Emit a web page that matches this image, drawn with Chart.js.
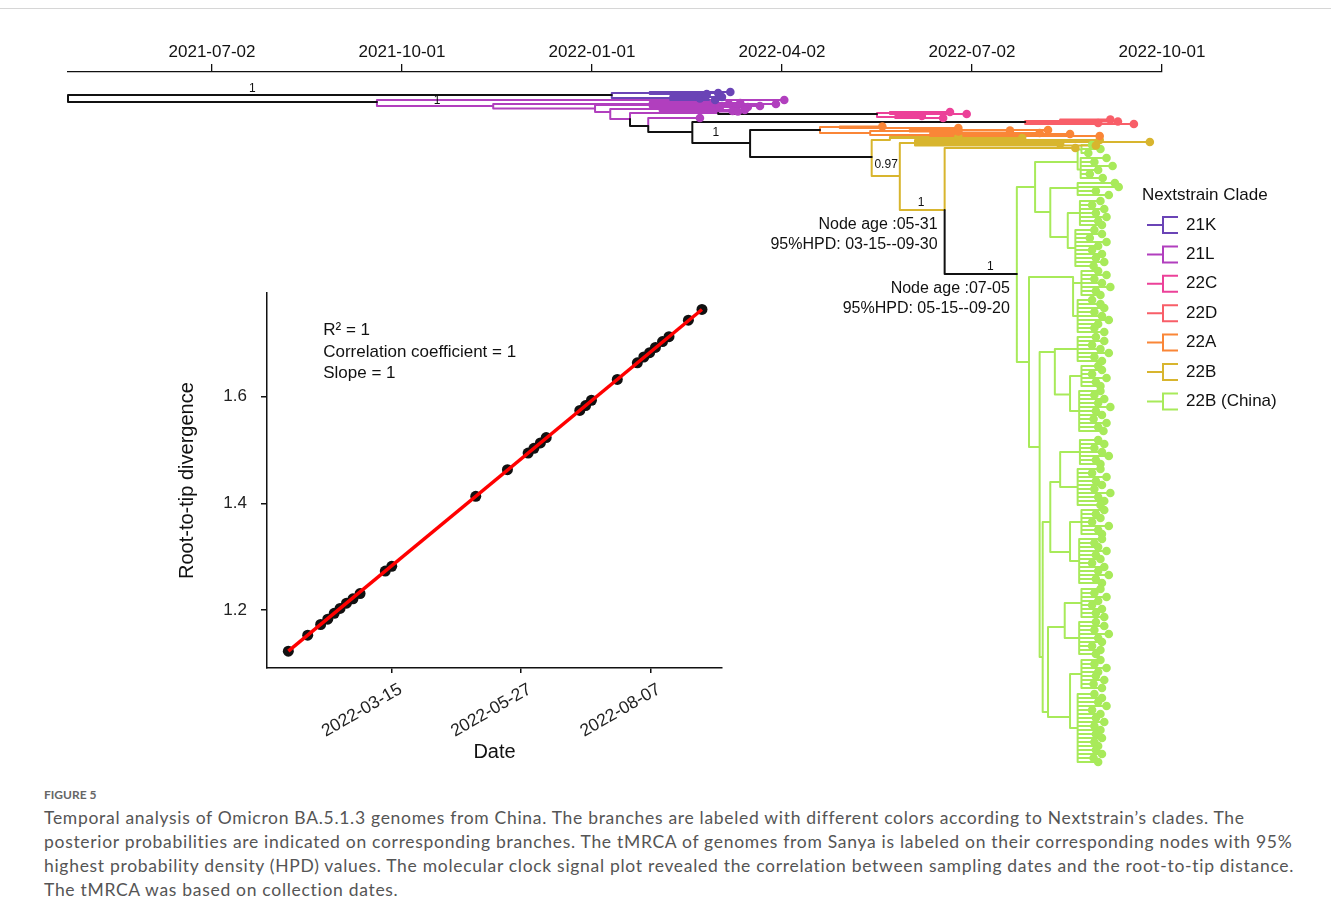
<!DOCTYPE html>
<html>
<head>
<meta charset="utf-8">
<script src="https://cdn.jsdelivr.net/npm/chart.js@4.4.1/dist/chart.umd.min.js"></script>
<style>
  html, body { margin: 0; padding: 0; background: #fff; }
  body { width: 1331px; height: 924px; position: relative; overflow: hidden; }
  #frame { position: absolute; left: 0; top: 8px; width: 1331px; height: 1px; background: #d6d6d6; }
  #tree-wrap { position: absolute; left: 0; top: 0; width: 1331px; height: 780px; }
  #clock-wrap { position: absolute; left: 160px; top: 269px; width: 580px; height: 511px; }
  #caption { position: absolute; left: 44px; top: 786px; width: 1285px; color: #555; font-family: 'Lato', 'Open Sans', sans-serif; }
  .fig-no { font-size: 12px; font-weight: 700; line-height: 18px; color: #666; }
  .fig-text { font-size: 17.5px; letter-spacing: 0.7px; line-height: 24px; margin-top: 2px; white-space: nowrap; }
</style>
</head>
<body>
<div id="frame"></div>
<div id="tree-wrap"><canvas id="chart-tree" width="1331" height="780"></canvas></div>
<div id="clock-wrap"><canvas id="chart-clock" width="580" height="511"></canvas></div>
<div id="caption">
  <div class="fig-no">FIGURE 5</div>
  <div class="fig-text">Temporal analysis of Omicron BA.5.1.3 genomes from China. The branches are labeled with different colors according to Nextstrain’s clades. The<br>posterior probabilities are indicated on corresponding branches. The tMRCA of genomes from Sanya is labeled on their corresponding nodes with 95%<br>highest probability density (HPD) values. The molecular clock signal plot revealed the correlation between sampling dates and the root-to-tip distance.<br>The tMRCA was based on collection dates.</div>
</div>
<script>
const FONT = "'Liberation Sans', Arial, sans-serif";
Chart.defaults.font.family = FONT;

// ── tree: time axis (decimal years) ──
const treeTickYears = [2021.5, 2021.75, 2022.0, 2022.25, 2022.5, 2022.75];
const treeTickLabels = ['2021-07-02', '2021-10-01', '2022-01-01', '2022-04-02', '2022-07-02', '2022-10-01'];

const cladeNames = ['21K', '21L', '22C', '22D', '22A', '22B', '22B (China)'];
const cladeColors = ['#6a44b6', '#b13fbe', '#ec4199', '#f85e68', '#fa8637', '#d8b52e', '#a8ea5a'];

// node rows: [id, parent, year, tip row]; id null = sampled tip
const backboneNodes = [
  ['R', null, 2021.3105, 5.2],
  ['K0', 'R', 2022.026, 4.6],
  ['L0', 'R', 2021.717, 6.0],
  ['P0', 'S22C', 2022.375, 8.4],
  ['B3', 'B1', 2022.074, 10.8],
  ['B4', 'B3', 2022.132, 12.0],
  ['D0', 'B4', 2022.570, 10.0],
  ['B5', 'B4', 2022.208, 14.2],
  ['A0', 'B5', 2022.300, 11.6],
  ['Y1', 'B5', 2022.368, 17.0],
  ['C0', 'Y3', 2022.559, 40.4],
];
const nodes21K = [
  ['k1', 'K0', 2022.076, 4.2],
  ['k2', 'K0', 2022.103, 5.2],
  [null, 'k1', 2022.151, 4.4],
  [null, 'k1', 2022.182, 4.0],
  [null, 'k1', 2022.166, 4.2],
  [null, 'k2', 2022.171, 5.0],
  [null, 'k2', 2022.162, 5.6],
  [null, 'k2', 2022.142, 5.3],
  [null, 'k2', 2022.150, 4.8],
];
const nodes21L = [
  [null, 'L0', 2022.253, 5.6],
  ['l2', 'L0', 2021.870, 6.8],
  [null, 'l2', 2022.242, 6.4],
  ['l3', 'l2', 2022.004, 7.3],
  ['l3a', 'l3', 2022.076, 6.6],
  [null, 'l3a', 2022.195, 6.2],
  [null, 'l3a', 2022.221, 6.8],
  [null, 'l3a', 2022.180, 6.4],
  [null, 'l3a', 2022.160, 6.0],
  [null, 'l3a', 2022.205, 7.0],
  ['l4', 'l3', 2022.024, 8.0],
  ['l4a', 'l4', 2022.089, 7.4],
  [null, 'l4a', 2022.201, 7.6],
  [null, 'l4a', 2022.168, 7.2],
  [null, 'l4a', 2022.185, 7.8],
  ['B1', 'l4', 2022.050, 9.4],
  ['S22C', 'B1', 2022.166, 8.2],
  [null, 'S22C', 2022.192, 7.9],
  [null, 'B3', 2022.142, 9.2],
];
const nodes22C = [
  ['p1', 'P0', 2022.392, 8.2],
  ['p2', 'P0', 2022.399, 9.0],
  [null, 'p1', 2022.471, 8.0],
  [null, 'p1', 2022.493, 8.4],
  [null, 'p2', 2022.434, 8.8],
  [null, 'p2', 2022.462, 9.2],
];
const nodes22D = [
  ['d1', 'D0', 2022.616, 9.8],
  [null, 'd1', 2022.682, 9.5],
  [null, 'd1', 2022.692, 9.9],
  [null, 'D0', 2022.713, 10.4],
  [null, 'D0', 2022.666, 10.2],
];
const nodes22A = [
  ['a1', 'A0', 2022.326, 11.0],
  ['a2', 'A0', 2022.366, 12.2],
  ['a3', 'a2', 2022.418, 11.8],
  ['a4', 'a2', 2022.445, 12.6],
  [null, 'a1', 2022.382, 10.9],
  [null, 'a1', 2022.482, 11.2],
  [null, 'a3', 2022.482, 11.9],
  [null, 'a3', 2022.550, 11.7],
  [null, 'a3', 2022.600, 11.6],
  [null, 'a4', 2022.589, 12.2],
  [null, 'a4', 2022.668, 12.8],
  [null, 'a4', 2022.629, 12.4],
];
const nodes22B = [
  ['y1a', 'Y1', 2022.392, 13.6],
  ['Y2', 'Y1', 2022.405, 20.8],
  ['y2a', 'Y2', 2022.425, 14.2],
  ['Y3', 'Y2', 2022.464, 27.6],
  [null, 'y1a', 2022.482, 13.0],
  [null, 'y1a', 2022.566, 13.2],
  [null, 'y2a', 2022.668, 13.6],
  [null, 'y2a', 2022.734, 14.0],
  [null, 'y2a', 2022.616, 14.4],
  [null, 'y2a', 2022.663, 14.7],
  [null, 'Y3', 2022.636, 15.2],
];
const chinaNodes = [
  ['GA', 'C0', 2022.583, 23.0],
  ['GA1', 'GA', 2022.639, 18.0],
  ['GA1a', 'GA1', 2022.644, 15.5],
  ['GA1b', 'GA1', 2022.643, 19.5],
  ['GA2', 'GA', 2022.603, 28.0],
  ['GA2a', 'GA2', 2022.639, 23.2],
  ['GA2b', 'GA2', 2022.626, 33.0],
  ['GA2b1', 'GA2b', 2022.642, 28.2],
  ['GA2b2', 'GA2b', 2022.636, 35.2],
  ['GB', 'C0', 2022.575, 58.0],
  ['GB1', 'GB', 2022.633, 41.0],
  ['GB1a', 'GB1', 2022.644, 42.2],
  ['GB1b', 'GB1', 2022.639, 48.8],
  ['GB2', 'GB', 2022.589, 75.0],
  ['GB2a', 'GB2', 2022.609, 56.0],
  ['GB2a1', 'GB2a', 2022.639, 55.4],
  ['GB2a2', 'GB2a', 2022.629, 64.5],
  ['GB2a2a', 'GB2a2', 2022.644, 60.8],
  ['GB2a2b', 'GB2a2', 2022.641, 67.8],
  ['GB3', 'GB2', 2022.593, 117.0],
  ['GB3a', 'GB3', 2022.603, 90.0],
  ['GB3a1', 'GB3a', 2022.616, 82.0],
  ['GB3a1a', 'GB3a1', 2022.642, 76.0],
  ['GB3a1b', 'GB3a1', 2022.639, 83.0],
  ['GB3a2', 'GB3a', 2022.629, 96.0],
  ['GB3a2a', 'GB3a2', 2022.644, 90.0],
  ['GB3a2b', 'GB3a2', 2022.641, 97.8],
  ['GB4', 'GB3', 2022.600, 128.0],
  ['GB4a', 'GB4', 2022.622, 111.0],
  ['GB4a1', 'GB4a', 2022.644, 106.2],
  ['GB4a2', 'GB4a', 2022.641, 113.2],
  ['GB4b', 'GB4', 2022.629, 129.0],
  ['GB4b1', 'GB4b', 2022.644, 120.4],
  ['GB4b2', 'GB4b', 2022.639, 131.2],
];
// China tips: [parent, year, row]
const chinaTips = [
  ['GA1a', 2022.658, 14.6], ['GA1a', 2022.669, 15.4], ['GA1a', 2022.653, 16.2],
  ['GA1b', 2022.677, 17.2], ['GA1b', 2022.661, 18.0], ['GA1b', 2022.685, 18.8], ['GA1b', 2022.666, 19.6], ['GA1b', 2022.655, 20.4], ['GA1b', 2022.672, 21.2],
  ['GA2a', 2022.688, 22.2], ['GA2a', 2022.693, 23.0], ['GA2a', 2022.663, 23.8], ['GA2a', 2022.680, 24.6],
  ['GA2b1', 2022.669, 25.8], ['GA2b1', 2022.658, 26.6], ['GA2b1', 2022.674, 27.4], ['GA2b1', 2022.663, 28.2], ['GA2b1', 2022.677, 29.0], ['GA2b1', 2022.666, 29.8], ['GA2b1', 2022.671, 30.6],
  ['GA2b2', 2022.661, 31.6], ['GA2b2', 2022.671, 32.4], ['GA2b2', 2022.655, 33.2], ['GA2b2', 2022.677, 34.0], ['GA2b2', 2022.666, 34.8], ['GA2b2', 2022.658, 35.6], ['GA2b2', 2022.671, 36.4], ['GA2b2', 2022.663, 37.2], ['GA2b2', 2022.674, 38.0], ['GA2b2', 2022.660, 38.8],
  ['GB1a', 2022.666, 39.8], ['GB1a', 2022.677, 40.6], ['GB1a', 2022.661, 41.4], ['GB1a', 2022.671, 42.2], ['GB1a', 2022.682, 43.0], ['GB1a', 2022.663, 43.8], ['GB1a', 2022.669, 44.6],
  ['GB1b', 2022.658, 45.6], ['GB1b', 2022.669, 46.4], ['GB1b', 2022.674, 47.2], ['GB1b', 2022.661, 48.0], ['GB1b', 2022.671, 48.8], ['GB1b', 2022.680, 49.6], ['GB1b', 2022.666, 50.4], ['GB1b', 2022.661, 51.2], ['GB1b', 2022.674, 52.0],
  ['GB2a1', 2022.663, 53.0], ['GB2a1', 2022.674, 53.8], ['GB2a1', 2022.658, 54.6], ['GB2a1', 2022.669, 55.4], ['GB2a1', 2022.680, 56.2], ['GB2a1', 2022.661, 57.0], ['GB2a1', 2022.671, 57.8],
  ['GB2a2a', 2022.666, 58.8], ['GB2a2a', 2022.671, 59.6], ['GB2a2a', 2022.658, 60.4], ['GB2a2a', 2022.677, 61.2], ['GB2a2a', 2022.663, 62.0], ['GB2a2a', 2022.669, 62.8],
  ['GB2a2b', 2022.669, 63.8], ['GB2a2b', 2022.661, 64.6], ['GB2a2b', 2022.674, 65.4], ['GB2a2b', 2022.666, 66.2], ['GB2a2b', 2022.682, 67.0], ['GB2a2b', 2022.663, 67.8], ['GB2a2b', 2022.671, 68.6], ['GB2a2b', 2022.660, 69.4], ['GB2a2b', 2022.677, 70.2], ['GB2a2b', 2022.666, 71.0], ['GB2a2b', 2022.673, 71.8],
  ['GB3a1a', 2022.666, 73.6], ['GB3a1a', 2022.674, 74.4], ['GB3a1a', 2022.661, 75.2], ['GB3a1a', 2022.671, 76.0], ['GB3a1a', 2022.680, 76.8], ['GB3a1a', 2022.663, 77.6], ['GB3a1a', 2022.669, 78.4],
  ['GB3a1b', 2022.669, 79.4], ['GB3a1b', 2022.658, 80.2], ['GB3a1b', 2022.677, 81.0], ['GB3a1b', 2022.663, 81.8], ['GB3a1b', 2022.671, 82.6], ['GB3a1b', 2022.661, 83.4], ['GB3a1b', 2022.682, 84.2], ['GB3a1b', 2022.666, 85.0], ['GB3a1b', 2022.674, 85.8], ['GB3a1b', 2022.669, 86.6],
  ['GB3a2a', 2022.674, 87.6], ['GB3a2a', 2022.663, 88.4], ['GB3a2a', 2022.669, 89.2], ['GB3a2a', 2022.658, 90.0], ['GB3a2a', 2022.680, 90.8], ['GB3a2a', 2022.666, 91.6], ['GB3a2a', 2022.671, 92.4],
  ['GB3a2b', 2022.671, 93.4], ['GB3a2b', 2022.661, 94.2], ['GB3a2b', 2022.666, 95.0], ['GB3a2b', 2022.677, 95.8], ['GB3a2b', 2022.663, 96.6], ['GB3a2b', 2022.669, 97.4], ['GB3a2b', 2022.658, 98.2], ['GB3a2b', 2022.674, 99.0], ['GB3a2b', 2022.666, 99.8], ['GB3a2b', 2022.680, 100.6], ['GB3a2b', 2022.663, 101.4], ['GB3a2b', 2022.671, 102.2],
  ['GB4a1', 2022.669, 103.4], ['GB4a1', 2022.661, 104.2], ['GB4a1', 2022.677, 105.0], ['GB4a1', 2022.666, 105.8], ['GB4a1', 2022.658, 106.6], ['GB4a1', 2022.671, 107.4], ['GB4a1', 2022.663, 108.2], ['GB4a1', 2022.674, 109.0],
  ['GB4a2', 2022.663, 110.0], ['GB4a2', 2022.674, 110.8], ['GB4a2', 2022.661, 111.6], ['GB4a2', 2022.680, 112.4], ['GB4a2', 2022.666, 113.2], ['GB4a2', 2022.671, 114.0], ['GB4a2', 2022.658, 114.8], ['GB4a2', 2022.669, 115.6], ['GB4a2', 2022.663, 116.4],
  ['GB4b1', 2022.669, 117.6], ['GB4b1', 2022.661, 118.4], ['GB4b1', 2022.677, 119.2], ['GB4b1', 2022.666, 120.0], ['GB4b1', 2022.663, 120.8], ['GB4b1', 2022.674, 121.6], ['GB4b1', 2022.660, 122.4], ['GB4b1', 2022.671, 123.2],
  ['GB4b2', 2022.661, 124.4], ['GB4b2', 2022.671, 125.2], ['GB4b2', 2022.666, 126.0], ['GB4b2', 2022.677, 126.8], ['GB4b2', 2022.658, 127.6], ['GB4b2', 2022.669, 128.4], ['GB4b2', 2022.663, 129.2], ['GB4b2', 2022.674, 130.0], ['GB4b2', 2022.661, 130.8],
  ['GB4b2', 2022.669, 131.6], ['GB4b2', 2022.663, 132.4], ['GB4b2', 2022.671, 133.2], ['GB4b2', 2022.661, 134.0], ['GB4b2', 2022.666, 134.8], ['GB4b2', 2022.663, 135.6], ['GB4b2', 2022.671, 136.4], ['GB4b2', 2022.660, 137.2], ['GB4b2', 2022.666, 138.0],
];

// posterior probabilities on branches
const posteriorLabels = ['1', '1', '1', '0.97', '1', '1'];
const posteriorYears = [2021.553, 2021.796, 2022.163, 2022.387, 2022.433, 2022.524];
const posteriorRows = [3.4, 5.8, 12.2, 18.6, 26.2, 39.0];
// tMRCA notes on Sanya nodes
const nodeAgeNodes = ['Y3', 'C0'];
const nodeAgeText = [
  ['Node age :05-31', '95%HPD: 03-15--09-30'],
  ['Node age :07-05', '95%HPD: 05-15--09-20'],
];

// ── molecular clock inset ──
const sampleYears = [2022.040, 2022.070, 2022.090, 2022.101, 2022.111, 2022.120, 2022.130, 2022.140, 2022.151, 2022.190, 2022.200,
  2022.330, 2022.379, 2022.411, 2022.420, 2022.430, 2022.439, 2022.491, 2022.500, 2022.509, 2022.549,
  2022.580, 2022.590, 2022.599, 2022.608, 2022.619, 2022.629, 2022.659, 2022.680];
const rootToTip = [1.123, 1.153, 1.173, 1.183, 1.194, 1.203, 1.213, 1.221, 1.231, 1.273, 1.282,
  1.413, 1.463, 1.494, 1.503, 1.513, 1.523, 1.574, 1.583, 1.593, 1.632,
  1.663, 1.674, 1.682, 1.692, 1.703, 1.712, 1.743, 1.763];
const fitYears = [2022.040, 2022.680];
const fitDivergence = [1.123, 1.763];
const clockDateTicks = [2022.2, 2022.4, 2022.6];
const clockDateLabels = ['2022-03-15', '2022-05-27', '2022-08-07'];
const clockYTicks = [1.2, 1.4, 1.6];
const statLines = ['R² = 1', 'Correlation coefficient = 1', 'Slope = 1'];
const statYear = 2022.094;
const statValues = [1.7245, 1.6833, 1.644];

// ── build tree datasets ──
const treeGroups = [
  { color: '#111111', nodes: backboneNodes },
  { color: cladeColors[0], nodes: nodes21K },
  { color: cladeColors[1], nodes: nodes21L },
  { color: cladeColors[2], nodes: nodes22C },
  { color: cladeColors[3], nodes: nodes22D },
  { color: cladeColors[4], nodes: nodes22A },
  { color: cladeColors[5], nodes: nodes22B },
  { color: cladeColors[6], nodes: chinaNodes.concat(chinaTips.map(t => [null, t[0], t[1], t[2]])) },
];

const nodeById = {};
const hasChild = new Set();
treeGroups.forEach(g => g.nodes.forEach(n => {
  if (n[0]) nodeById[n[0]] = n;
  if (n[1]) hasChild.add(n[1]);
}));

function edgePath(nodes) {
  const pts = [];
  nodes.forEach(n => {
    const p = nodeById[n[1]];
    if (!p) return;
    pts.push({ x: p[2], y: p[3] }, { x: p[2], y: n[3] }, { x: n[2], y: n[3] }, { x: null, y: null });
  });
  return pts;
}
function tipPoints(nodes) {
  return nodes.filter(n => !n[0] || !hasChild.has(n[0])).map(n => ({ x: n[2], y: n[3] }));
}

const treeDatasets = [];
treeGroups.forEach(g => {
  treeDatasets.push({
    data: edgePath(g.nodes),
    showLine: true,
    borderColor: g.color,
    borderWidth: 2,
    borderJoinStyle: 'round',
    borderCapStyle: 'round',
    pointRadius: 0,
    clip: false,
    order: 2,
  });
  const tips = tipPoints(g.nodes);
  if (tips.length) {
    treeDatasets.push({
      data: tips,
      showLine: false,
      pointRadius: 4.3,
      pointBackgroundColor: g.color,
      pointBorderWidth: 0,
      clip: false,
      order: 1,
    });
  }
});

const treeOverlay = {
  id: 'treeOverlay',
  afterDatasetsDraw(chart) {
    const { ctx, scales: { x, y } } = chart;
    ctx.save();
    ctx.fillStyle = '#111';
    ctx.textBaseline = 'middle';

    ctx.font = `12px ${FONT}`;
    ctx.textAlign = 'center';
    posteriorLabels.forEach((t, i) => {
      ctx.fillText(t, x.getPixelForValue(posteriorYears[i]), y.getPixelForValue(posteriorRows[i]));
    });

    ctx.font = `16px ${FONT}`;
    ctx.textAlign = 'right';
    nodeAgeNodes.forEach((id, i) => {
      const n = nodeById[id];
      const px = x.getPixelForValue(n[2]) - 7;
      const py = y.getPixelForValue(n[3]);
      nodeAgeText[i].forEach((t, j) => ctx.fillText(t, px, py + 15 + j * 20));
    });

    // legend
    ctx.textAlign = 'left';
    ctx.font = `17px ${FONT}`;
    ctx.fillText('Nextstrain Clade', 1142, 195);
    ctx.lineWidth = 2;
    cladeNames.forEach((name, i) => {
      const cy = 225 + i * 29.4;
      ctx.strokeStyle = cladeColors[i];
      ctx.beginPath();
      ctx.moveTo(1147, cy);
      ctx.lineTo(1163, cy);
      ctx.moveTo(1178, cy - 8);
      ctx.lineTo(1163, cy - 8);
      ctx.lineTo(1163, cy + 8);
      ctx.lineTo(1178, cy + 8);
      ctx.stroke();
      ctx.fillStyle = '#111';
      ctx.fillText(name, 1186, cy);
    });
    ctx.restore();
  },
};

new Chart(document.getElementById('chart-tree'), {
  type: 'scatter',
  data: { datasets: treeDatasets },
  options: {
    responsive: false,
    animation: false,
    events: [],
    layout: { padding: { left: 68, right: 169, top: 0, bottom: 8 } },
    plugins: { legend: { display: false }, tooltip: { enabled: false } },
    scales: {
      x: {
        type: 'linear',
        position: 'top',
        min: 2021.3105,
        max: 2022.75,
        afterBuildTicks: s => { s.ticks = treeTickYears.map(v => ({ value: v })); },
        afterFit: s => { s.height = 72; },
        ticks: {
          callback: (v, i) => treeTickLabels[i],
          font: { size: 17 },
          color: '#111',
          padding: 1,
          autoSkip: false,
          minRotation: 0,
          maxRotation: 0,
        },
        grid: { drawOnChartArea: false, drawTicks: true, tickLength: 8, color: '#111', lineWidth: 1.3 },
        border: { display: true, color: '#111', width: 1.3 },
      },
      y: { type: 'linear', reverse: true, min: 0, max: 140, display: false },
    },
  },
  plugins: [treeOverlay],
});

// ── molecular clock plot ──
const clockText = {
  id: 'clockText',
  afterDatasetsDraw(chart) {
    const { ctx, scales: { x, y } } = chart;
    ctx.save();
    ctx.fillStyle = '#111';
    ctx.font = `17px ${FONT}`;
    ctx.textAlign = 'left';
    ctx.textBaseline = 'middle';
    statLines.forEach((t, i) => ctx.fillText(t, x.getPixelForValue(statYear), y.getPixelForValue(statValues[i])));
    ctx.restore();
  },
};

new Chart(document.getElementById('chart-clock'), {
  type: 'scatter',
  data: {
    datasets: [
      {
        data: fitYears.map((v, i) => ({ x: v, y: fitDivergence[i] })),
        showLine: true,
        borderColor: '#ff0000',
        borderWidth: 3.5,
        pointRadius: 0,
        order: 0,
      },
      {
        data: sampleYears.map((v, i) => ({ x: v, y: rootToTip[i] })),
        pointRadius: 5.5,
        pointBackgroundColor: '#111',
        pointBorderWidth: 0,
        order: 1,
      },
    ],
  },
  options: {
    responsive: false,
    animation: false,
    events: [],
    layout: { padding: { left: 0, right: 18, top: 24, bottom: 0 } },
    plugins: { legend: { display: false }, tooltip: { enabled: false } },
    scales: {
      x: {
        type: 'linear',
        min: 2022.007,
        max: 2022.711,
        afterBuildTicks: s => { s.ticks = clockDateTicks.map(v => ({ value: v })); },
        afterFit: s => { s.height = 112; },
        ticks: {
          callback: (v, i) => clockDateLabels[i],
          font: { size: 17.5 },
          color: '#222',
          minRotation: 30,
          maxRotation: 30,
          padding: 6,
          labelOffset: 9,
          autoSkip: false,
        },
        grid: { drawOnChartArea: false, drawTicks: true, tickLength: 5, color: '#111', lineWidth: 1.5 },
        border: { display: true, color: '#111', width: 1.5 },
        title: { display: true, text: 'Date', font: { size: 20 }, color: '#111', padding: { top: 0, bottom: 16 } },
      },
      y: {
        type: 'linear',
        min: 1.0915,
        max: 1.7935,
        afterBuildTicks: s => { s.ticks = clockYTicks.map(v => ({ value: v })); },
        afterFit: s => { s.width = 107; },
        ticks: {
          callback: v => v.toFixed(1),
          font: { size: 17 },
          color: '#222',
          padding: 14,
        },
        grid: { drawOnChartArea: false, drawTicks: true, tickLength: 6, color: '#111', lineWidth: 1.5 },
        border: { display: true, color: '#111', width: 1.5 },
        title: { display: true, text: 'Root-to-tip divergence', font: { size: 20 }, color: '#111', padding: { top: 15, bottom: 0 } },
      },
    },
  },
  plugins: [clockText],
});
</script>
</body>
</html>
